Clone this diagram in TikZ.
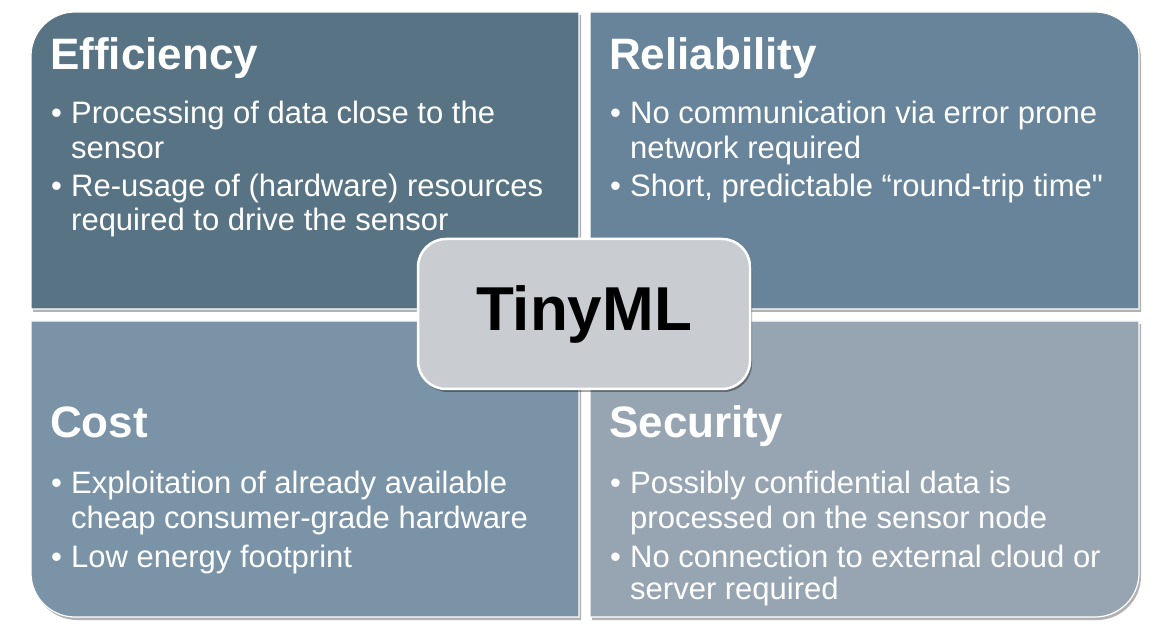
\documentclass[tikz,border=0pt]{standalone}
\usepackage{fontspec}
\setmainfont{Liberation Sans}[Ligatures=TeXOff]
\usetikzlibrary{shadows}
\definecolor{cTL}{HTML}{587384}
\definecolor{cTR}{HTML}{68849A}
\definecolor{cBL}{HTML}{7A93A7}
\definecolor{cBR}{HTML}{97A5B2}
\definecolor{cMid}{HTML}{C9CDD2}
\tikzset{
  quad/.style={draw=white, line width=1.2pt,
    drop shadow={shadow xshift=2pt, shadow yshift=-3pt, opacity=.3, fill=black}},
  title/.style={anchor=base west, inner sep=0pt, text=white,
    font=\bfseries\fontsize{44}{44}\selectfont},
  body/.style={anchor=base west, inner sep=0pt, text=white,
    font=\fontsize{31}{34}\selectfont},
  midbox/.style={rounded corners=28pt, minimum width=332pt, minimum height=150pt,
    fill=cMid, draw=white, line width=2.5pt, text=black,
    font=\bfseries\fontsize{62}{62}\selectfont,
    drop shadow={shadow xshift=2pt, shadow yshift=-3pt, opacity=.35, fill=black}}
}
\newcommand{\bul}{\makebox[20pt][l]{•}}
\begin{document}
\begin{tikzpicture}[x=1pt,y=1pt]
\useasboundingbox (0,0) rectangle (1174,626);
\fill[white] (0,0) rectangle (1174,626);
% quadrants
\path[quad, fill=cTL] (31,317) -- (31,570) arc[start angle=180, end angle=90, radius=44] -- (579,614) -- (579,317) -- cycle;
\path[quad, fill=cTR] (590,317) -- (590,614) -- (1095,614) arc[start angle=90, end angle=0, radius=44] -- (1139,317) -- cycle;
\path[quad, fill=cBL] (31,305) -- (31,53) arc[start angle=180, end angle=270, radius=44] -- (579,9) -- (579,305) -- cycle;
\path[quad, fill=cBR] (590,305) -- (590,9) -- (1095,9) arc[start angle=270, end angle=360, radius=44] -- (1139,53) -- (1139,305) -- cycle;
% Efficiency
\node[title] (effT) at (50,556) {Efficiency};
\node[body] (eff1) at (51,502) {\bul Processing of data close to the};
\node[body] (eff1b) at (71,467) {sensor};
\node[body] (eff2) at (51,429) {\bul Re-usage of (hardware) resources};
\node[body] (eff2b) at (71,395) {required to drive the sensor};
% Reliability
\node[title] (relT) at (609,556) {Reliability};
\node[body] (rel1) at (610,502) {\bul No communication via error prone};
\node[body] (rel1b) at (630,467) {network required};
\node[body] (rel2) at (610,429) {\bul Short, predictable “round-trip time"};
% Cost
\node[title] (costT) at (50,188) {Cost};
\node[body] (cost1) at (51,132) {\bul Exploitation of already available};
\node[body] (cost1b) at (71,97) {cheap consumer-grade hardware};
\node[body] (cost2) at (51,59) {\bul Low energy footprint};
% Security
\node[title] (secT) at (609,188) {Security};
\node[body] (sec1) at (610,132) {\bul Possibly confidential data is};
\node[body] (sec1b) at (630,97) {processed on the sensor node};
\node[body] (sec2) at (610,59) {\bul No connection to external cloud or};
\node[body] (sec2b) at (630,27) {server required};
% center
\node[midbox] (tiny) at (584,312) {TinyML};
\end{tikzpicture}
\end{document}
